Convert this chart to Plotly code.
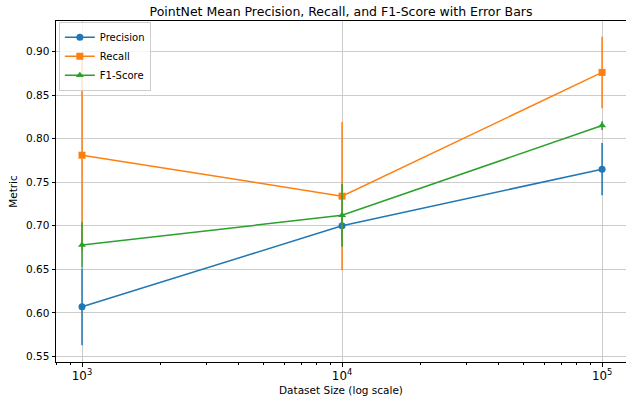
import plotly.graph_objects as go

# Dataset sizes and mean metrics with their standard deviations
dataset_sizes = [1000, 10000, 100000]

precision_mean = [0.607, 0.700, 0.765]
precision_std = [0.044, 0.015, 0.030]

recall_mean = [0.781, 0.734, 0.876]
recall_std = [0.110, 0.085, 0.041]

f1_mean = [0.678, 0.712, 0.815]
f1_std = [0.026, 0.036, 0.005]

series = [
    ("Precision", precision_mean, precision_std, "#1f77b4", "circle"),
    ("Recall", recall_mean, recall_std, "#ff7f0e", "square"),
    ("F1-Score", f1_mean, f1_std, "#2ca02c", "triangle-up"),
]

fig = go.Figure()
for name, mean, std, color, symbol in series:
    fig.add_trace(go.Scatter(
        x=dataset_sizes,
        y=mean,
        name=name,
        mode="lines+markers",
        line=dict(color=color, width=1.5),
        marker=dict(color=color, symbol=symbol, size=7),
        error_y=dict(type="data", array=std, visible=True,
                     color=color, thickness=1.5, width=0),
    ))

font_family = "DejaVu Sans"
fig.update_layout(
    width=626,
    height=400,
    margin=dict(l=56, r=0, t=21, b=37.5),
    paper_bgcolor="white",
    plot_bgcolor="white",
    font=dict(family=font_family, size=10, color="black"),
    title=dict(
        text="PointNet Mean Precision, Recall, and F1-Score with Error Bars",
        x=0.5, xanchor="center", xref="paper",
        y=0.972, yanchor="middle",
        font=dict(family=font_family, size=12.5, color="black"),
    ),
    showlegend=True,
    legend=dict(
        x=0.005, y=0.998, xanchor="left", yanchor="top",
        bgcolor="rgba(255,255,255,0.8)",
        bordercolor="#cccccc", borderwidth=1,
        font=dict(family=font_family, size=10, color="black"),
        tracegroupgap=0, itemwidth=30,
    ),
)

fig.update_xaxes(
    type="log",
    range=[2.9, 5.092],
    dtick=1,
    exponentformat="power",
    showgrid=True, gridcolor="#cccccc", gridwidth=1,
    showline=True, linecolor="black", linewidth=1, mirror=True,
    ticks="outside", ticklen=3.5, tickcolor="black", tickwidth=1,
    minor=dict(ticks="outside", ticklen=2, tickcolor="black", tickwidth=0.8, showgrid=False),
    zeroline=False,
    title=dict(text="Dataset Size (log scale)", standoff=4,
               font=dict(family=font_family, size=10.5)),
    tickfont=dict(family=font_family, size=9.5),
)

fig.update_yaxes(
    range=[0.5437, 0.935],
    tickvals=[0.55, 0.60, 0.65, 0.70, 0.75, 0.80, 0.85, 0.90],
    tickformat=".2f",
    showgrid=True, gridcolor="#cccccc", gridwidth=1,
    showline=True, linecolor="black", linewidth=1, mirror=True,
    ticks="outside", ticklen=3.5, tickcolor="black", tickwidth=1,
    zeroline=False,
    title=dict(text="Metric", standoff=6,
               font=dict(family=font_family, size=10.5)),
    tickfont=dict(family=font_family, size=10.5),
)

fig.write_html("out.html")
